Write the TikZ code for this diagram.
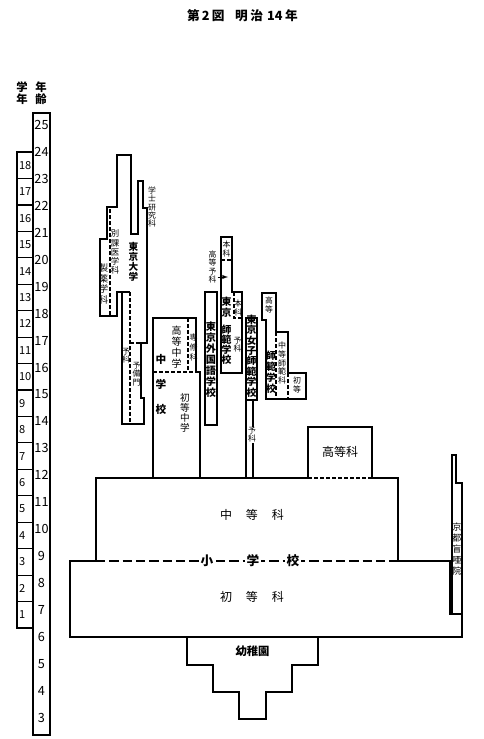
\documentclass[tikz,border=0pt]{standalone}
\usepackage{fontspec}
\setmainfont{Noto Sans CJK JP}
\usetikzlibrary{arrows}

\begin{document}
\begin{tikzpicture}[x=0.75pt,y=0.75pt,yscale=-1,xscale=1,line width=0.85pt,
  dsh/.style={dash pattern=on 3pt off 1.5pt},
  heavy/.style={line width=1.8pt},
  heavydsh/.style={line width=1.8pt,dash pattern=on 7pt off 3pt},
  tsm/.style={inner sep=0pt,align=center,font=\fontsize{5.9}{6.2}\selectfont},
  tmd/.style={inner sep=0pt,align=center,font=\fontsize{7.2}{8}\selectfont},
  tbf/.style={inner sep=0pt,align=center,font=\bfseries\fontsize{7.4}{8.1}\selectfont},
  tbig/.style={inner sep=0pt,font=\fontsize{9}{9}\selectfont},
  num/.style={inner sep=0pt,font=\fontsize{9.5}{9.5}\selectfont}]
\useasboundingbox (0,0) rectangle (484,739);

% Text Node
\draw (242.5,16) node (title) [inner sep=0pt,font=\bfseries\fontsize{9.5}{9.5}\selectfont] {第\,2\,図\hspace{8pt}明\hspace{2pt}治\hspace{3pt}14\hspace{2pt}年};
% Text Node
\draw (22,93) node (gakunen) [inner sep=0pt,align=center,font=\bfseries\fontsize{8.5}{9}\selectfont] {学\\年};
% Text Node
\draw (41,93) node (nenrei) [inner sep=0pt,align=center,font=\bfseries\fontsize{8.5}{9}\selectfont] {年\\齢};

%Shape: Rectangle (ages)
\draw (33,113) rectangle (50,735);
\foreach \a in {3,...,25}
  \draw (41.5,{125+(25-\a)*26.95}) node (age\a) [num] {\a};

%Shape: Rectangle (grades)
\draw (17,152) rectangle (33,628);
\foreach \g in {1,...,17}
  \draw (17,{628-\g*26.44}) -- (33,{628-\g*26.44});
\foreach \g in {1,...,18}
  \draw (18.5,{628-(\g-0.5)*26.44}) node (gr\g) [anchor=west,inner sep=0pt,font=\fontsize{8.3}{8.3}\selectfont] {\g};

%Shape: Polygon (Tokyo University)
\draw (117,155) -- (131,155) -- (131,234) -- (138,234) -- (138,181) -- (143,181) -- (143,208) -- (147,208) -- (147,343) -- (141,343) -- (141,398) -- (144,398) -- (144,424) -- (122,424) -- (122,292) -- (117,292) -- (117,316) -- (100,316) -- (100,239) -- (107,239) -- (107,207) -- (117,207) -- cycle;
\draw (122,292) -- (130,292);
\draw [dsh] (110,209) -- (110,316);
\draw [dsh] (130,292) -- (130,424);
\draw [dsh] (130,343) -- (141,343);
% Text Node
\draw (133.5,262) node (todai) [tbf,font=\bfseries\fontsize{7.2}{7.6}\selectfont] {東\\京\\大\\学};
% Text Node
\draw (152,207) node (gakushi) [tsm] {学\\士\\研\\究\\科};
% Text Node
\draw (115,252) node (betsuka) [tsm,font=\fontsize{6.3}{6.8}\selectfont] {別\\課\\医\\学\\科};
% Text Node
\draw (103.5,284) node (seiyaku) [tsm,font=\fontsize{7}{7.8}\selectfont] {製\\薬\\学\\科};
% Text Node
\draw (126,356) node (todaiyoka) [tsm] {予\\科};
% Text Node
\draw (136.5,374) node (yobimon) [tsm] {予\\備\\門};

%Shape: Polygon (middle school)
\draw (153,478) -- (153,318) -- (196,318) -- (196,372) -- (200,372) -- (200,478);
\draw [dsh] (153,372) -- (196,372);
\draw [dsh] (188,318) -- (188,372);
% Text Node
\draw (161,384.5) node (chugakko) [inner sep=0pt,align=center,font=\bfseries\fontsize{8}{18.6}\selectfont] {中\\学\\校};
% Text Node
\draw (176.5,347) node (kotochu) [tmd,font=\fontsize{7.5}{8.25}\selectfont] {高\\等\\中\\学};
% Text Node
\draw (193.5,347) node (senshu) [tsm,font=\fontsize{6}{7.5}\selectfont] {専\\修\\科};
% Text Node
\draw (185,413) node (shotochu) [tmd,font=\fontsize{7.2}{7.6}\selectfont] {初\\等\\中\\学};

%Shape: Rectangle (foreign languages)
\draw (205,292) rectangle (217,425);
% Text Node
\draw (211,360) node (gaigo) [tbf,font=\bfseries\fontsize{7.6}{8.25}\selectfont] {東\\京\\外\\国\\語\\学\\校};

%Shape: Polygon (normal school)
\draw (221,237) -- (232,237) -- (232,292) -- (242,292) -- (242,373) -- (221,373) -- cycle;
\draw [dsh] (221,260) -- (232,260);
\draw [dsh] (234,292) -- (234,318) -- (242,318);
% Text Node
\draw (226.5,249) node (honka1) [tsm] {本\\科};
% Text Node
\draw (212.5,267) node (kotoyoka) [tsm] {高\\等\\予\\科};
\coordinate (kotoyokatip) at (228,277);
\draw [-latex,line width=0.5pt] (217.5,277) -- (kotoyokatip);
% Text Node
\draw (226.5,307) node (tokyo2) [tbf] {東\\京};
% Text Node
\draw (226.5,345) node (shihan1) [tbf,font=\bfseries\fontsize{7.4}{7.6}\selectfont] {師\\範\\学\\校};
% Text Node
\draw (238,308) node (honka2) [tsm] {本\\科};
% Text Node
\draw (237.5,345) node (yoka2) [tsm] {予\\科};

%Shape: Rectangle (women's normal school)
\draw (246,318) rectangle (257,400);
\draw (246,400) -- (246,478);
\draw (253,400) -- (253,478);
% Text Node
\draw (251.5,356) node (joshi) [tbf,font=\bfseries\fontsize{7.4}{7.8}\selectfont] {東\\京\\女\\子\\師\\範\\学\\校};
% Text Node
\draw (252,435) node (yoka3) [tsm,fill=white,inner sep=0.5pt] {予\\科};

%Shape: Polygon (normal school 2)
\draw (262,293) -- (276,293) -- (276,332) -- (288,332) -- (288,373) -- (306,373) -- (306,399) -- (266,399) -- (266,320) -- (262,320) -- cycle;
\draw [dsh] (276,332) -- (276,399);
\draw [dsh] (288,373) -- (288,399);
% Text Node
\draw (269,305) node (koto2) [tsm] {高\\等};
% Text Node
\draw (271,372) node (shihan2) [tbf,font=\bfseries\fontsize{7.4}{8.25}\selectfont] {師\\範\\学\\校};
% Text Node
\draw (282,363) node (chutoshihan) [tsm,font=\fontsize{6}{6.4}\selectfont] {中\\等\\師\\範\\科};
% Text Node
\draw (297,385) node (shoto2) [tsm] {初\\等};

%Shape: Polygon (higher course)
\draw (308,478) -- (308,427) -- (372,427) -- (372,478);
% Text Node
\draw (340,452) node (kotoka) [tbig] {高等科};

%Shape: Polygon (middle course)
\draw (96,561) -- (96,478) -- (308,478);
\draw [dsh] (308,478) -- (372,478);
\draw (372,478) -- (398,478) -- (398,561);
% Text Node
\draw (252,515) node (chutoka) [tbig] {中\hspace{10.5pt}等\hspace{10.5pt}科};

%Shape: Polygon (elementary school)
\draw [heavy] (96,561) -- (70,561) -- (70,637) -- (462,637) -- (462,614) -- (450,614) -- (450,561) -- (398,561);
\draw [heavydsh] (96,561) -- (398,561);
% Text Node
\draw (207,561) node (sho) [fill=white,inner sep=1.5pt,font=\bfseries\fontsize{9.5}{9.5}\selectfont] {小};
% Text Node
\draw (253,561) node (gaku) [fill=white,inner sep=1.5pt,font=\bfseries\fontsize{9.5}{9.5}\selectfont] {学};
% Text Node
\draw (293,561) node (ko) [fill=white,inner sep=1.5pt,font=\bfseries\fontsize{9.5}{9.5}\selectfont] {校};
% Text Node
\draw (252,597) node (shotoka) [tbig] {初\hspace{10.5pt}等\hspace{10.5pt}科};

%Shape: Polygon (Kyoto school for the blind)
\draw (452,614) -- (452,455) -- (456,455) -- (456,483) -- (462,483) -- (462,614);
% Text Node
\draw (457,549) node (moa) [tsm,font=\fontsize{6.8}{8.2}\selectfont] {京\\都\\盲\\唖\\院};

%Shape: Polygon (kindergarten)
\draw (187,637) -- (187,665) -- (213,665) -- (213,692) -- (239,692) -- (239,719) -- (266,719) -- (266,692) -- (292,692) -- (292,665) -- (318,665) -- (318,637);
% Text Node
\draw (252.5,651) node (yochien) [inner sep=0pt,font=\bfseries\fontsize{8.5}{8.5}\selectfont] {幼稚園};

\end{tikzpicture}
\end{document}
